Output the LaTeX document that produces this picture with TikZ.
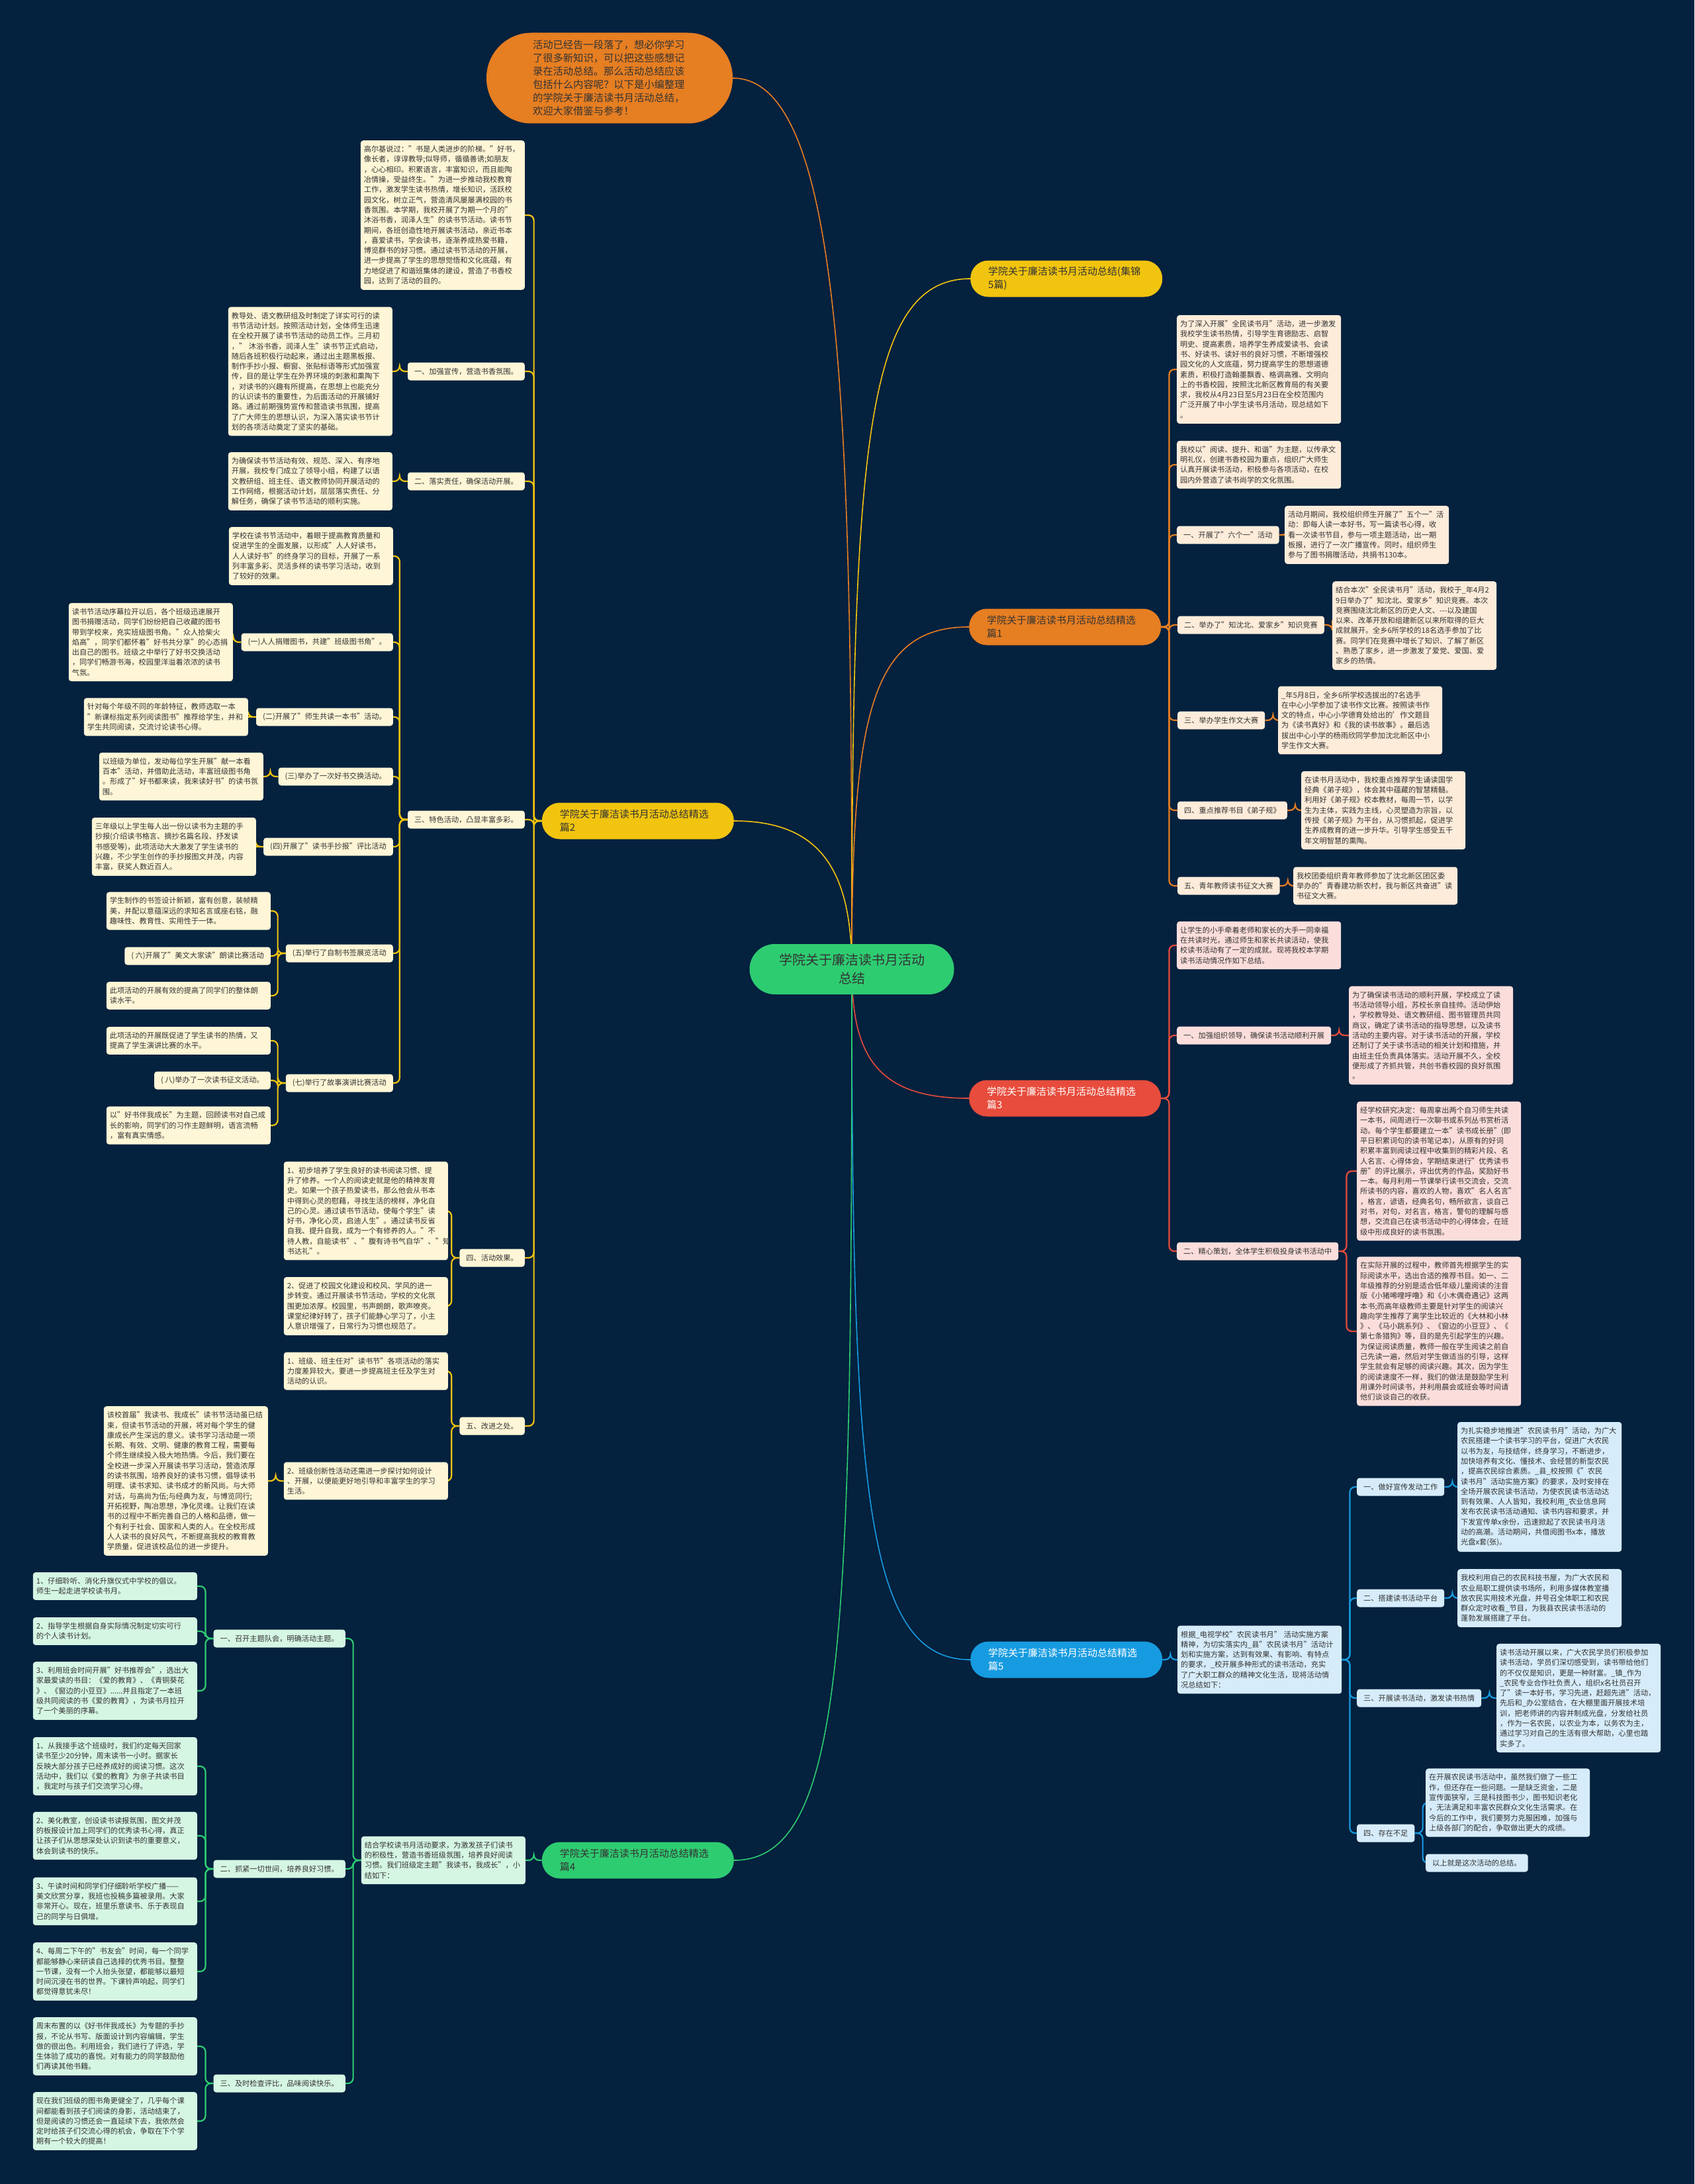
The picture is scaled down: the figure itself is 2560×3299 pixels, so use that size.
\documentclass[tikz,border=0pt]{standalone}
\usepackage{fontspec}
\setmainfont{Noto Sans CJK SC}
\usepackage{tikz}
\usetikzlibrary{positioning}

\definecolor{bgnavy}{RGB}{4,33,62}
\definecolor{yelC}{RGB}{241,196,15}
\definecolor{oraC}{RGB}{230,126,34}
\definecolor{redC}{RGB}{231,76,60}
\definecolor{bluC}{RGB}{22,155,224}
\definecolor{grnC}{RGB}{46,204,113}
\definecolor{yelL}{RGB}{254,246,214}
\definecolor{oraL}{RGB}{253,236,218}
\definecolor{redL}{RGB}{251,222,219}
\definecolor{bluL}{RGB}{214,236,250}
\definecolor{grnL}{RGB}{214,246,228}
\definecolor{inkC}{RGB}{51,51,51}

\pgfdeclarelayer{bg}
\pgfdeclarelayer{edges}
\pgfsetlayers{bg,edges,main}

\newcommand{\leaffont}{\fontsize{11.2}{15.3}\selectfont}
\newcommand{\linkL}[3]{\draw[#1] (#2.west) -- ++(-12,0) |- (#3.east);}
\newcommand{\linkR}[3]{\draw[#1] (#2.east) -- ++(12,0) |- (#3.west);}

\begin{document}
\begin{tikzpicture}[x=1pt, y=-1pt,
  pill/.style={rounded corners=27pt, inner xsep=27pt, inner ysep=8pt, text width=236pt, align=left, minimum height=55pt, font=\fontsize{15}{20}\selectfont, text=inkC},
  leaf/.style={rounded corners=4pt, inner xsep=5pt, inner ysep=8pt, text width=238pt, align=left, font=\leaffont, text=inkC},
  tag/.style={rounded corners=4pt, inner xsep=10pt, inner ysep=0pt, minimum height=27pt, font=\leaffont, text=inkC},
  trunk/.style={line width=1.6pt},
  twig/.style={line width=2.2pt, rounded corners=8pt},
  leafY/.style={leaf, fill=yelL}, tagY/.style={tag, fill=yelL}, twigY/.style={twig, draw=yelC},
  leafO/.style={leaf, fill=oraL}, tagO/.style={tag, fill=oraL}, twigO/.style={twig, draw=oraC},
  leafR/.style={leaf, fill=redL}, tagR/.style={tag, fill=redL}, twigR/.style={twig, draw=redC},
  leafB/.style={leaf, fill=bluL}, tagB/.style={tag, fill=bluL}, twigB/.style={twig, draw=bluC},
  leafG/.style={leaf, fill=grnL}, tagG/.style={tag, fill=grnL}, twigG/.style={twig, draw=grnC},
]
\useasboundingbox (0,0) rectangle (2560,3299);
\begin{pgfonlayer}{bg}
\fill[bgnavy] (0,0) rectangle (2560,3299);
\end{pgfonlayer}

% root and first level
\node[rounded corners=38pt, fill=grnC, minimum width=309pt, minimum height=76pt, align=center, font=\fontsize{20}{28}\selectfont, text=inkC] (root) at (1287,1464) {学院关于廉洁读书月活动\\总结};
\node[rounded corners=68pt, fill=oraC, text width=232pt, align=left, inner xsep=70pt, inner ysep=0pt, minimum height=137pt, font=\fontsize{15.3}{20}\selectfont, text=inkC] (intro) at (921,118) {活动已经告一段落了，想必你学习\\
了很多新知识，可以把这些感想记\\
录在活动总结。那么活动总结应该\\
包括什么内容呢？以下是小编整理\\
的学院关于廉洁读书月活动总结，\\
欢迎大家借鉴与参考！};
\node[pill, fill=yelC, anchor=west] (A) at (1466,421) {学院关于廉洁读书月活动总结(集锦\\5篇)};
\node[pill, fill=oraC, anchor=west] (B) at (1464,947) {学院关于廉洁读书月活动总结精选\\篇1};
\node[pill, fill=redC, text=white, anchor=west] (C) at (1464,1659) {学院关于廉洁读书月活动总结精选\\篇3};
\node[pill, fill=bluC, text=white, anchor=west] (D) at (1466,2507) {学院关于廉洁读书月活动总结精选\\篇5};
\node[pill, fill=yelC, anchor=east] (E) at (1109,1240) {学院关于廉洁读书月活动总结精选\\篇2};
\node[pill, fill=grnC, anchor=east] (F) at (1109,2810) {学院关于廉洁读书月活动总结精选\\篇4};

% branch 2
\node[leafY, anchor=east] (e0) at (793,325) {高尔基说过："书是人类进步的阶梯。"好书，\\
像长者，谆谆教导;似导师，循循善诱;如朋友\\
，心心相印。积累语言，丰富知识，而且能陶\\
冶情操，受益终生。"为进一步推动我校教育\\
工作，激发学生读书热情，增长知识，活跃校\\
园文化，树立正气，营造清风屡屡满校园的书\\
香氛围。本学期，我校开展了为期一个月的"\\
沐浴书香，润泽人生"的读书节活动。读书节\\
期间，各班创造性地开展读书活动，亲近书本\\
，喜爱读书，学会读书，逐渐养成热爱书籍，\\
博览群书的好习惯。通过读书节活动的开展，\\
进一步提高了学生的思想觉悟和文化底蕴，有\\
力地促进了和谐班集体的建设，营造了书香校\\
园，达到了活动的目的。};
\node[tagY, anchor=east] (e1) at (793,561) {一、加强宣传，营造书香氛围。};
\node[leafY, anchor=east] (e1a) at (593,561) {教导处、语文教研组及时制定了详实可行的读\\
书节活动计划。按照活动计划，全体师生迅速\\
在全校开展了读书节活动的动员工作。三月初\\
，"~沐浴书香，润泽人生"读书节正式启动，\\
随后各班积极行动起来，通过出主题黑板报、\\
制作手抄小报、橱窗、张贴标语等形式加强宣\\
传，目的是让学生在外界环境的刺激和熏陶下\\
，对读书的兴趣有所提高，在思想上也能充分\\
的认识读书的重要性，为后面活动的开展铺好\\
路。通过前期强势宣传和营造读书氛围，提高\\
了广大师生的思想认识，为深入落实读书节计\\
划的各项活动奠定了坚实的基础。};
\node[tagY, anchor=east] (e2) at (793,727) {二、落实责任，确保活动开展。};
\node[leafY, anchor=east] (e2a) at (593,727) {为确保读书节活动有效、规范、深入、有序地\\
开展，我校专门成立了领导小组，构建了以语\\
文教研组、班主任、语文教师协同开展活动的\\
工作网络，根据活动计划，层层落实责任、分\\
解任务，确保了读书节活动的顺利实施。};
\node[tagY, anchor=east] (e3) at (793,1238) {三、特色活动，凸显丰富多彩。};
\node[leafY, anchor=east] (e3a) at (594,840) {学校在读书节活动中，着眼于提高教育质量和\\
促进学生的全面发展，以形成"人人好读书，\\
人人读好书"的终身学习的目标，开展了一系\\
列丰富多彩、灵活多样的读书学习活动，收到\\
了较好的效果。};
\node[tagY, anchor=east] (e3b) at (594,970) {(一)人人捐赠图书，共建"班级图书角"。};
\node[leafY, anchor=east] (e3ba) at (352,970) {读书节活动序幕拉开以后，各个班级迅速展开\\
图书捐赠活动，同学们纷纷把自己收藏的图书\\
带到学校来，充实班级图书角。"众人拾柴火\\
焰高"，同学们都怀着"好书共分享"的心态捐\\
出自己的图书。班级之中举行了好书交换活动\\
，同学们畅游书海，校园里洋溢着浓浓的读书\\
气氛。};
\node[tagY, anchor=east] (e3c) at (594,1083) {(二)开展了"师生共读一本书"活动。};
\node[leafY, anchor=east] (e3ca) at (375,1083) {针对每个年级不同的年龄特征，教师选取一本\\
"新课标指定系列阅读图书"推荐给学生，并和\\
学生共同阅读，交流讨论读书心得。};
\node[tagY, anchor=east] (e3d) at (594,1173) {(三)举办了一次好书交换活动。};
\node[leafY, anchor=east] (e3da) at (398,1173) {以班级为单位，发动每位学生开展"献一本看\\
百本"活动，并借助此活动，丰富班级图书角\\
。形成了"好书都来读，我来读好书"的读书氛\\
围。};
\node[tagY, anchor=east] (e3e) at (594,1279) {(四)开展了"读书手抄报"评比活动};
\node[leafY, anchor=east] (e3ea) at (387,1279) {三年级以上学生每人出一份以读书为主题的手\\
抄报(介绍读书格言、摘抄名篇名段、抒发读\\
书感受等)，此项活动大大激发了学生读书的\\
兴趣，不少学生创作的手抄报图文并茂，内容\\
丰富，获奖人数近百人。};
\node[tagY, anchor=east] (e3f) at (594,1440) {(五)举行了自制书签展览活动};
\node[leafY, anchor=east] (e3fa) at (409,1376) {学生制作的书签设计新颖，富有创意，装帧精\\
美，并配以意蕴深远的求知名言或座右铭，融\\
趣味性、教育性、实用性于一体。};
\node[tagY, anchor=east] (e3fb) at (409,1444) {(~六)开展了"美文大家读"朗读比赛活动};
\node[leafY, anchor=east] (e3fc) at (409,1504) {此项活动的开展有效的提高了同学们的整体朗\\
读水平。};
\node[tagY, anchor=east] (e3g) at (594,1636) {(七)举行了故事演讲比赛活动};
\node[leafY, anchor=east] (e3ga) at (409,1572) {此项活动的开展既促进了学生读书的热情，又\\
提高了学生演讲比赛的水平。};
\node[tagY, anchor=east] (e3gb) at (409,1632) {(~八)举办了一次读书征文活动。};
\node[leafY, anchor=east] (e3gc) at (409,1700) {以"好书伴我成长"为主题，回顾读书对自己成\\
长的影响，同学们的习作主题鲜明，语言流畅\\
，富有真实情感。};
\node[tagY, anchor=east] (e4) at (793,1900) {四、活动效果。};
\node[leafY, anchor=east] (e4a) at (677,1829) {1、初步培养了学生良好的读书阅读习惯、提\\
升了修养。一个人的阅读史就是他的精神发育\\
史。如果一个孩子热爱读书，那么他会从书本\\
中得到心灵的慰藉，寻找生活的榜样，净化自\\
己的心灵。通过读书节活动，使每个学生"读\\
好书，净化心灵，启迪人生"。通过读书反省\\
自我、提升自我，成为一个有修养的人。"不\\
待人教，自能读书"、"腹有诗书气自华"、"知\\
书达礼"。};
\node[leafY, anchor=east] (e4b) at (677,1973) {2、促进了校园文化建设和校风、学风的进一\\
步转变。通过开展读书节活动，学校的文化氛\\
围更加浓厚。校园里，书声朗朗，歌声嘹亮。\\
课堂纪律好转了，孩子们能静心学习了，小主\\
人意识增强了，日常行为习惯也规范了。};
\node[tagY, anchor=east] (e5) at (793,2154) {五、改进之处。};
\node[leafY, anchor=east] (e5a) at (677,2071) {1、班级、班主任对"读书节"各项活动的落实\\
力度差异较大。要进一步提高班主任及学生对\\
活动的认识。};
\node[leafY, anchor=east] (e5b) at (677,2237) {2、班级创新性活动还需进一步探讨如何设计\\
、开展，以便能更好地引导和丰富学生的学习\\
生活。};
\node[leafY, anchor=east] (e5ba) at (405,2237) {该校首届"我读书、我成长"读书节活动虽已结\\
束，但读书节活动的开展，将对每个学生的健\\
康成长产生深远的意义。读书学习活动是一项\\
长期、有效、文明、健康的教育工程，需要每\\
个师生继续投入极大地热情。今后，我们要在\\
全校进一步深入开展读书学习活动，营造浓厚\\
的读书氛围，培养良好的读书习惯，倡导读书\\
明理、读书求知、读书成才的新风尚。与大师\\
对话，与高尚为伍;与经典为友，与博览同行;\\
开拓视野，陶冶思想，净化灵魂。让我们在读\\
书的过程中不断完善自己的人格和品德，做一\\
个有利于社会、国家和人类的人。在全校形成\\
人人读书的良好风气，不断提高我校的教育教\\
学质量，促进该校品位的进一步提升。};

% branch 4
\node[leafG, anchor=east] (f0) at (794,2810) {结合学校读书月活动要求，为激发孩子们读书\\
的积极性，营造书香班级氛围，培养良好阅读\\
习惯。我们班级定主题"我读书，我成长"，小\\
结如下：};
\node[tagG, anchor=east] (f1) at (522,2475) {一、召开主题队会，明确活动主题。};
\node[leafG, anchor=east] (f1a) at (298,2396) {1、仔细聆听、消化升旗仪式中学校的倡议。\\
师生一起走进学校读书月。};
\node[leafG, anchor=east] (f1b) at (298,2464) {2、指导学生根据自身实际情况制定切实可行\\
的个人读书计划。};
\node[leafG, anchor=east] (f1c) at (298,2554) {3、利用班会时间开展"好书推荐会"，选出大\\
家最爱读的书目：《爱的教育》、《青铜葵花\\
》、《窗边的小豆豆》......并且指定了一本班\\
级共同阅读的书《爱的教育》，为读书月拉开\\
了一个美丽的序幕。};
\node[tagG, anchor=east] (f2) at (522,2823) {二、抓紧一切世间，培养良好习惯。};
\node[leafG, anchor=east] (f2a) at (298,2668) {1、从我接手这个班级时，我们约定每天回家\\
读书至少20分钟，周末读书一小时。据家长\\
反映大部分孩子已经养成好的阅读习惯。这次\\
活动中，我们以《爱的教育》为亲子共读书目\\
，我定时与孩子们交流学习心得。};
\node[leafG, anchor=east] (f2b) at (298,2773) {2、美化教室，创设读书读报氛围，图文并茂\\
的板报设计加上同学们的优秀读书心得，真正\\
让孩子们从思想深处认识到读书的重要意义，\\
体会到读书的快乐。};
\node[leafG, anchor=east] (f2c) at (298,2872) {3、午读时间和同学们仔细聆听学校广播——\\
美文欣赏分享，我班也投稿多篇被录用。大家\\
非常开心。现在，班里乐意读书、乐于表现自\\
己的同学与日俱增。};
\node[leafG, anchor=east] (f2d) at (298,2978) {4、每周二下午的"书友会"时间，每一个同学\\
都能够静心来研读自己选择的优秀书目。整整\\
一节课，没有一个人抬头张望，都能够以最短\\
时间沉浸在书的世界。下课铃声响起，同学们\\
都觉得意犹未尽！};
\node[tagG, anchor=east] (f3) at (522,3147) {三、及时检查评比，品味阅读快乐。};
\node[leafG, anchor=east] (f3a) at (298,3091) {周末布置的以《好书伴我成长》为专题的手抄\\
报，不论从书写、版面设计到内容编辑，学生\\
做的很出色。利用班会，我们进行了评选，学\\
生体验了成功的喜悦。对有能力的同学鼓励他\\
们再读其他书籍。};
\node[leafG, anchor=east] (f3b) at (298,3204) {现在我们班级的图书角更健全了，几乎每个课\\
间都能看到孩子们阅读的身影，活动结束了，\\
但是阅读的习惯还会一直延续下去，我依然会\\
定时给孩子们交流心得的机会，争取在下个学\\
期有一个较大的提高！};

% branch 1
\node[leafO, anchor=west] (b0) at (1778,558) {为了深入开展"全民读书月"活动，进一步激发\\
我校学生读书热情，引导学生育德励志、启智\\
明史、提高素质，培养学生养成爱读书、会读\\
书、好读书、读好书的良好习惯，不断增强校\\
园文化的人文底蕴，努力提高学生的思想道德\\
素质，积极打造翰墨飘香、格调高雅、文明向\\
上的书香校园，按照沈北新区教育局的有关要\\
求，我校从4月23日至5月23日在全校范围内\\
广泛开展了中小学生读书月活动，现总结如下\\
。};
\node[leafO, anchor=west] (b1) at (1778,702) {我校以"阅读、提升、和谐"为主题，以传承文\\
明礼仪，创建书香校园为重点，组织广大师生\\
认真开展读书活动，积极参与各项活动，在校\\
园内外营造了读书尚学的文化氛围。};
\node[tagO, anchor=west] (b2) at (1778,808) {一、开展了"六个一"活动};
\node[leafO, anchor=west] (b2a) at (1941,808) {活动月期间，我校组织师生开展了"五个一"活\\
动：即每人读一本好书，写一篇读书心得，收\\
看一次读书节目，参与一项主题活动，出一期\\
板报，进行了一次广播宣传。同时，组织师生\\
参与了图书捐赠活动，共捐书130本。};
\node[tagO, anchor=west] (b3) at (1779,944) {二、举办了"知沈北、爱家乡"知识竞赛};
\node[leafO, anchor=west] (b3a) at (2013,945) {结合本次"全民读书月"活动，我校于\_年4月2\\
9日举办了"知沈北、爱家乡"知识竞赛。本次\\
竞赛围绕沈北新区的历史人文、-{}-{}-以及建国\\
以来、改革开放和组建新区以来所取得的巨大\\
成就展开。全乡6所学校的18名选手参加了比\\
赛。同学们在竞赛中增长了知识、了解了新区\\
、熟悉了家乡，进一步激发了爱党、爱国、爱\\
家乡的热情。};
\node[tagO, anchor=west] (b4) at (1779,1088) {三、举办学生作文大赛};
\node[leafO, anchor=west] (b4a) at (1931,1088) {\_年5月8日，全乡6所学校选拔出的7名选手\\
在中心小学参加了读书作文比赛。按照读书作\\
文的特点，中心小学德育处给出的'作文题目\\
为《读书真好》和《我的读书故事》。最后选\\
拔出中心小学的杨雨欣同学参加沈北新区中小\\
学生作文大赛。};
\node[tagO, anchor=west] (b5) at (1779,1224) {四、重点推荐书目《弟子规》};
\node[leafO, anchor=west] (b5a) at (1966,1224) {在读书月活动中，我校重点推荐学生诵读国学\\
经典《弟子规》，体会其中蕴藏的智慧精髓。\\
利用好《弟子规》校本教材，每周一节，以学\\
生为主体，实践为主线，心灵塑造为宗旨，以\\
传授《弟子规》为平台，从习惯抓起，促进学\\
生养成教育的进一步升华。引导学生感受五千\\
年文明智慧的熏陶。};
\node[tagO, anchor=west] (b6) at (1779,1338) {五、青年教师读书征文大赛};
\node[leafO, anchor=west] (b6a) at (1954,1338) {我校团委组织青年教师参加了沈北新区团区委\\
举办的"青春建功新农村，我与新区共奋进"读\\
书征文大赛。};

% branch 3
\node[leafR, anchor=west] (c0) at (1778,1428) {让学生的小手牵着老师和家长的大手一同幸福\\
在共读时光，通过师生和家长共读活动，使我\\
校读书活动有了一定的成就。现将我校本学期\\
读书活动情况作如下总结。};
\node[tagR, anchor=west] (c1) at (1778,1564) {一、加强组织领导，确保读书活动顺利开展};
\node[leafR, anchor=west] (c1a) at (2038,1564) {为了确保读书活动的顺利开展，学校成立了读\\
书活动领导小组，苏校长亲自挂帅。活动伊始\\
，学校教导处、语文教研组、图书管理员共同\\
商议，确定了读书活动的指导思想，以及读书\\
活动的主要内容。对于读书活动的开展，学校\\
还制订了关于读书活动的相关计划和措施，并\\
由班主任负责具体落实。活动开展不久，全校\\
便形成了齐抓共管，共创书香校园的良好氛围\\
。};
\node[tagR, anchor=west] (c2) at (1778,1890) {二、精心策划，全体学生积极投身读书活动中};
\node[leafR, anchor=west] (c2a) at (2050,1769) {经学校研究决定：每周拿出两个自习师生共读\\
一本书，间周进行一次聊书或系列丛书赏析活\\
动。每个学生都要建立一本"读书成长册"(即\\
平日积累词句的读书笔记本)，从原有的好词\\
积累丰富到阅读过程中收集到的精彩片段、名\\
人名言、心得体会，学期结束进行"优秀读书\\
册"的评比展示，评出优秀的作品，奖励好书\\
一本。每月利用一节课举行读书交流会，交流\\
所读书的内容，喜欢的人物，喜欢"名人名言"\\
，格言，谚语，经典名句，畅所欲言，谈自己\\
对书，对句，对名言，格言，警句的理解与感\\
想，交流自己在读书活动中的心得体会，在班\\
级中形成良好的读书氛围。};
\node[leafR, anchor=west] (c2b) at (2050,2011) {在实际开展的过程中，教师首先根据学生的实\\
际阅读水平，选出合适的推荐书目。如一、二\\
年级推荐的分别是适合低年级儿童阅读的注音\\
版《小猪唏哩呼噜》和《小木偶奇遇记》这两\\
本书;而高年级教师主要是针对学生的阅读兴\\
趣向学生推荐了离学生比较近的《大林和小林\\
》、《马小跳系列》、《窗边的小豆豆》、《\\
第七条猎狗》等，目的是先引起学生的兴趣。\\
为保证阅读质量，教师一般在学生阅读之前自\\
己先读一遍，然后对学生做适当的引导，这样\\
学生就会有足够的阅读兴趣。其次，因为学生\\
的阅读速度不一样，我们的做法是鼓励学生利\\
用课外时间读书，并利用晨会或班会等时间请\\
他们谈谈自己的收获。};

% branch 5
\node[leafB, anchor=west] (d0) at (1779,2507) {根据\_电视学校"农民读书月"~活动实施方案\\
精神，为切实落实内\_县"农民读书月"活动计\\
划和实施方案，达到有效果、有影响、有特点\\
的要求，\_校开展多种形式的读书活动，充实\\
了广大职工群众的精神文化生活，现将活动情\\
况总结如下：};
\node[tagB, anchor=west] (d1) at (2050,2246) {一、做好宣传发动工作};
\node[leafB, anchor=west] (d1a) at (2202,2246) {为扎实稳步地推进"农民读书月"活动，为广大\\
农民搭建一个读书学习的平台，促进广大农民\\
以书为友，与技结伴，终身学习，不断进步，\\
加快培养有文化、懂技术、会经营的新型农民\\
，提高农民综合素质。\_县\_校按照《"农民\\
读书月"活动实施方案》的要求，及时安排在\\
全场开展农民读书活动，为使农民读书活动达\\
到有效果、人人皆知，我校利用\_农业信息网\\
发布农民读书活动通知、读书内容和要求，并\\
下发宣传单x余份，迅速掀起了农民读书月活\\
动的高潮。活动期间，共借阅图书x本，播放\\
光盘x套(张)。};
\node[tagB, anchor=west] (d2) at (2050,2414) {二、搭建读书活动平台};
\node[leafB, anchor=west] (d2a) at (2202,2414) {我校利用自己的农民科技书屋，为广大农民和\\
农业局职工提供读书场所，利用多媒体教室播\\
放农民实用技术光盘，并号召全体职工和农民\\
群众定时收看\_节目，为我县农民读书活动的\\
蓬勃发展搭建了平台。};
\node[tagB, anchor=west] (d3) at (2050,2565) {三、开展读书活动，激发读书热情};
\node[leafB, anchor=west] (d3a) at (2261,2565) {读书活动开展以来，广大农民学员们积极参加\\
读书活动，学员们深切感受到，读书带给他们\\
的不仅仅是知识，更是一种财富。\_镇\_作为\\
\_农民专业合作社负责人，组织x名社员召开\\
了"读一本好书，学习先进，赶超先进"活动，\\
先后和\_办公室结合，在大棚里面开展技术培\\
训，把老师讲的内容并制成光盘，分发给社员\\
，作为一名农民，以农业为本，以务农为主，\\
通过学习对自己的生活有很大帮助，心里也踏\\
实多了。};
\node[tagB, anchor=west] (d4) at (2050,2769) {四、存在不足};
\node[leafB, anchor=west] (d4a) at (2154,2723) {在开展农民读书活动中，虽然我们做了一些工\\
作，但还存在一些问题。一是缺乏资金，二是\\
宣传面狭窄，三是科技图书少，图书知识老化\\
，无法满足和丰富农民群众文化生活需求。在\\
今后的工作中，我们要努力克服困难，加强与\\
上级各部门的配合，争取做出更大的成绩。};
\node[tagB, anchor=west] (d4b) at (2154,2814) {以上就是这次活动的总结。};

\begin{pgfonlayer}{edges}
\draw[trunk, draw=oraC] (root.center) .. controls +(0,-800) and +(170,0) .. (intro.east);
\draw[trunk, draw=yelC] (root.center) .. controls +(0,-780) and +(-160,0) .. (A.west);
\draw[trunk, draw=oraC] (root.center) .. controls +(0,-380) and +(-150,0) .. (B.west);
\draw[trunk, draw=yelC] (root.center) .. controls +(0,-150) and +(130,0) .. (E.east);
\draw[trunk, draw=redC] (root.center) .. controls +(0,130) and +(-140,0) .. (C.west);
\draw[trunk, draw=bluC] (root.center) .. controls +(0,780) and +(-160,0) .. (D.west);
\draw[trunk, draw=grnC] (root.center) .. controls +(0,1000) and +(170,0) .. (F.east);

\foreach \k in {e0,e1,e2,e3,e4,e5} {\linkL{twigY}{E}{\k}}
\linkL{twigY}{e1}{e1a}
\linkL{twigY}{e2}{e2a}
\foreach \k in {e3a,e3b,e3c,e3d,e3e,e3f,e3g} {\linkL{twigY}{e3}{\k}}
\linkL{twigY}{e3b}{e3ba}
\linkL{twigY}{e3c}{e3ca}
\linkL{twigY}{e3d}{e3da}
\linkL{twigY}{e3e}{e3ea}
\foreach \k in {e3fa,e3fb,e3fc} {\linkL{twigY}{e3f}{\k}}
\foreach \k in {e3ga,e3gb,e3gc} {\linkL{twigY}{e3g}{\k}}
\foreach \k in {e4a,e4b} {\linkL{twigY}{e4}{\k}}
\foreach \k in {e5a,e5b} {\linkL{twigY}{e5}{\k}}
\linkL{twigY}{e5b}{e5ba}

\linkL{twigG}{F}{f0}
\foreach \k in {f1,f2,f3} {\linkL{twigG}{f0}{\k}}
\foreach \k in {f1a,f1b,f1c} {\linkL{twigG}{f1}{\k}}
\foreach \k in {f2a,f2b,f2c,f2d} {\linkL{twigG}{f2}{\k}}
\foreach \k in {f3a,f3b} {\linkL{twigG}{f3}{\k}}

\foreach \k in {b0,b1,b2,b3,b4,b5,b6} {\linkR{twigO}{B}{\k}}
\linkR{twigO}{b2}{b2a}
\linkR{twigO}{b3}{b3a}
\linkR{twigO}{b4}{b4a}
\linkR{twigO}{b5}{b5a}
\linkR{twigO}{b6}{b6a}

\foreach \k in {c0,c1,c2} {\linkR{twigR}{C}{\k}}
\linkR{twigR}{c1}{c1a}
\foreach \k in {c2a,c2b} {\linkR{twigR}{c2}{\k}}

\linkR{twigB}{D}{d0}
\foreach \k in {d1,d2,d3,d4} {\linkR{twigB}{d0}{\k}}
\linkR{twigB}{d1}{d1a}
\linkR{twigB}{d2}{d2a}
\linkR{twigB}{d3}{d3a}
\foreach \k in {d4a,d4b} {\linkR{twigB}{d4}{\k}}
\end{pgfonlayer}
\end{tikzpicture}
\end{document}
